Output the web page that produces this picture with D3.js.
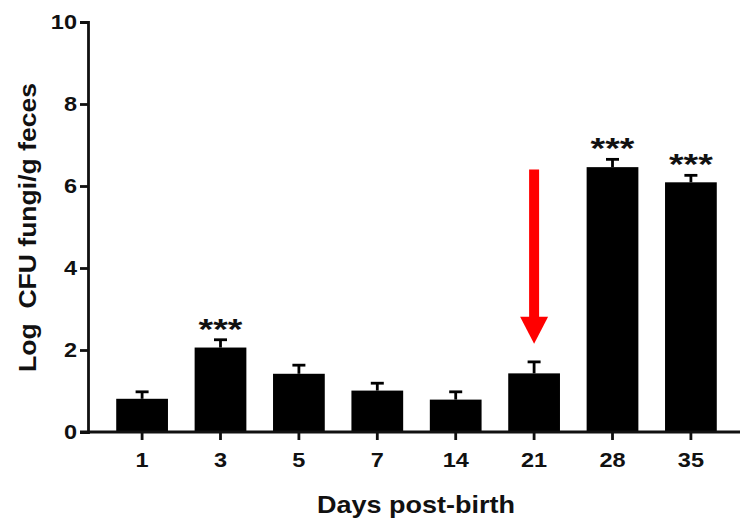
<!DOCTYPE html>
<html>
<head>
<meta charset="utf-8">
<script src="https://cdn.jsdelivr.net/npm/d3@7"></script>
<style>
  body { margin: 0; background: #fff; }
  text { font-family: "Liberation Sans", Arial, sans-serif; font-weight: bold; fill: #111; }
</style>
</head>
<body>
<div class="canvas"></div>
<script>
const days = ['1', '3', '5', '7', '14', '21', '28', '35'];
const means = [0.81, 2.06, 1.42, 1.01, 0.79, 1.43, 6.46, 6.09];
const upper = [0.98, 2.25, 1.63, 1.19, 0.98, 1.71, 6.65, 6.26];
const starred = ['3', '28', '35'];
const arrowDay = '21';
const yTicks = [0, 2, 4, 6, 8, 10];

const width = 740;
const height = 521;
const stretch = 1.12; // the original lettering is a bit wide

const svg = d3.select('.canvas')
  .append('svg')
  .attr('width', width)
  .attr('height', height);

const x = d3.scaleBand().domain(days).range([88, 745]).paddingInner(0.34).paddingOuter(0.36);
const y = d3.scaleLinear().domain([0, 10]).range([432, 22]);

// bars
svg.selectAll('rect.bar')
  .data(days)
  .enter().append('rect')
  .attr('class', 'bar')
  .attr('x', d => x(d))
  .attr('width', x.bandwidth())
  .attr('y', (d, i) => y(means[i]))
  .attr('height', (d, i) => y(0) - y(means[i]))
  .attr('fill', '#000');

// error bars (upper only)
const err = svg.append('g').attr('stroke', '#000').attr('stroke-width', 2.8);
days.forEach((d, i) => {
  const cx = x(d) + x.bandwidth() / 2;
  err.append('line')
    .attr('x1', cx).attr('x2', cx)
    .attr('y1', y(means[i])).attr('y2', y(upper[i]));
  err.append('line')
    .attr('x1', cx - 6.5).attr('x2', cx + 6.5)
    .attr('y1', y(upper[i])).attr('y2', y(upper[i]));
});

// significance stars
svg.selectAll('text.star')
  .data(starred)
  .enter().append('text')
  .attr('class', 'star')
  .attr('transform', d => `translate(${x(d) + x.bandwidth() / 2},${y(upper[days.indexOf(d)]) - 1}) scale(1.25,1)`)
  .attr('text-anchor', 'middle')
  .style('font-size', '30px')
  .text('***');

// axes
const yAxis = d3.axisLeft(y).tickValues(yTicks).tickSize(8);
const yAxisGroup = svg.append('g').attr('transform', 'translate(88,0)').call(yAxis);
yAxisGroup.select('.domain').attr('stroke', '#111').attr('stroke-width', 2.8);
yAxisGroup.selectAll('.tick line').attr('stroke', '#111').attr('stroke-width', 2.8);
yAxisGroup.selectAll('text')
  .attr('x', 0)
  .attr('transform', `translate(-11,0) scale(${stretch},1)`)
  .style('font-size', '21px').attr('fill', '#111')
  .style('font-family', '"Liberation Sans", Arial, sans-serif').style('font-weight', 'bold');

const xAxis = d3.axisBottom(x).tickSize(8).tickSizeOuter(0).tickPadding(12);
const xAxisGroup = svg.append('g').attr('transform', `translate(0,${y(0)})`).call(xAxis);
xAxisGroup.select('.domain').remove();
xAxisGroup.selectAll('.tick line').attr('stroke', '#111').attr('stroke-width', 2.8);
xAxisGroup.selectAll('text')
  .attr('transform', `scale(${stretch},1)`)
  .style('font-size', '21px').attr('fill', '#111')
  .style('font-family', '"Liberation Sans", Arial, sans-serif').style('font-weight', 'bold');
svg.append('line')
  .attr('x1', 80).attr('x2', 740)
  .attr('y1', y(0)).attr('y2', y(0))
  .attr('stroke', '#111').attr('stroke-width', 2.8);

// axis titles
svg.append('text')
  .attr('transform', 'translate(36,227.5) rotate(-90)')
  .attr('text-anchor', 'middle')
  .attr('textLength', 289)
  .attr('lengthAdjust', 'spacingAndGlyphs')
  .style('font-size', '24px')
  .style('white-space', 'pre')
  .text('Log  CFU fungi/g feces');

svg.append('text')
  .attr('x', 416)
  .attr('y', 513)
  .attr('text-anchor', 'middle')
  .attr('textLength', 198)
  .attr('lengthAdjust', 'spacingAndGlyphs')
  .style('font-size', '24px')
  .text('Days post-birth');

// red arrow
const ax = x(arrowDay) + x.bandwidth() / 2;
const arrowTop = 6.4;
const arrowTip = 2.15;
svg.append('line')
  .attr('x1', ax).attr('x2', ax)
  .attr('y1', y(arrowTop)).attr('y2', y(arrowTip) - 20)
  .attr('stroke', '#ff0000').attr('stroke-width', 10);
svg.append('path')
  .attr('d', `M${ax - 14},${y(arrowTip) - 27} L${ax + 14},${y(arrowTip) - 27} L${ax},${y(arrowTip)} Z`)
  .attr('fill', '#ff0000');
</script>
</body>
</html>
